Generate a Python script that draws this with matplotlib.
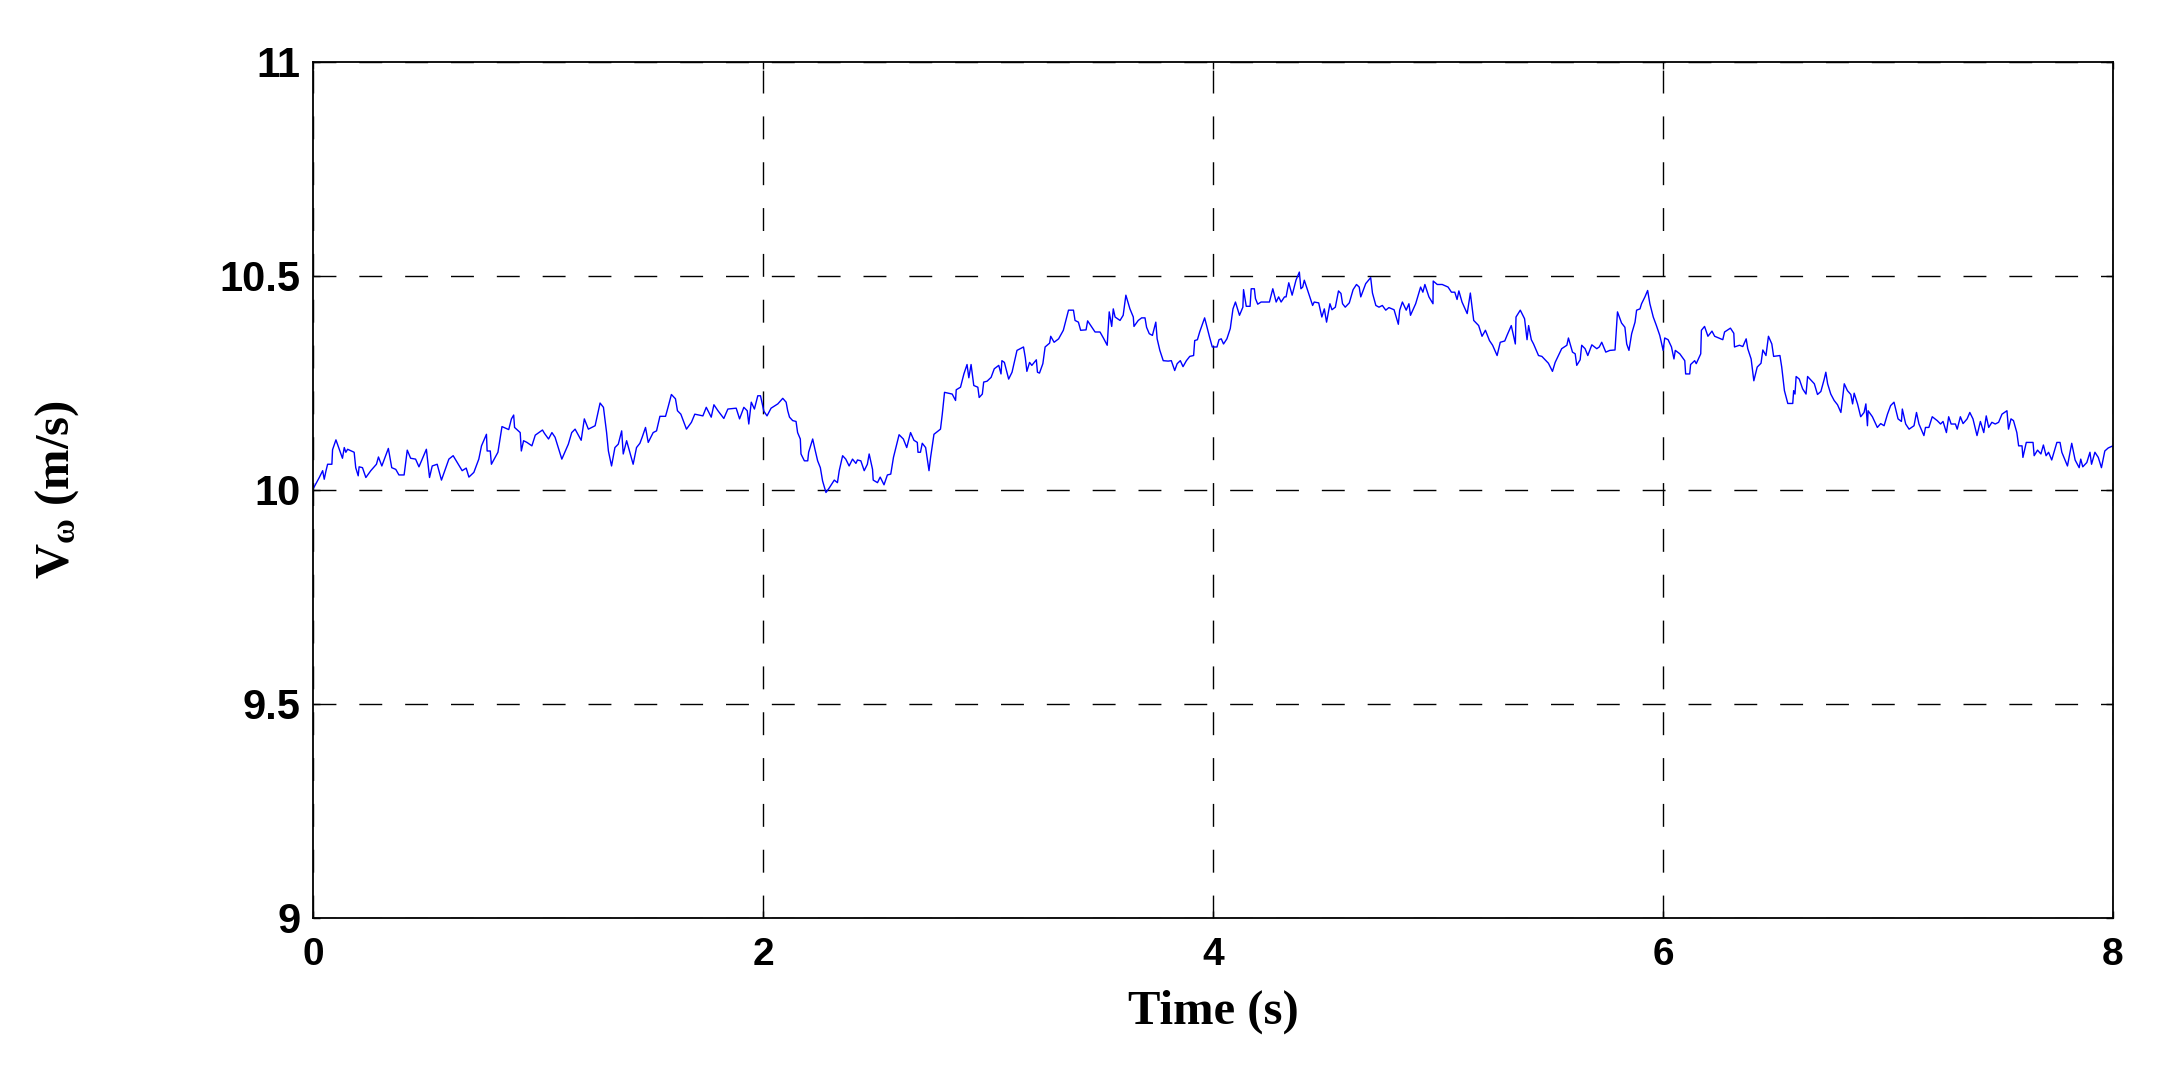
import numpy as np
import matplotlib.pyplot as plt

# Velocidad del viento, en tramos de ~2 s
t_seg1 = [0.000, 0.028, 0.043, 0.050, 0.058, 0.065, 0.084, 0.087, 0.102, 0.131,
          0.139, 0.146, 0.154, 0.183, 0.190, 0.201, 0.205, 0.220, 0.235, 0.257,
          0.282, 0.291, 0.306, 0.335, 0.350, 0.368, 0.382, 0.405, 0.419, 0.434,
          0.456, 0.471, 0.504, 0.518, 0.530, 0.552, 0.571, 0.604, 0.623, 0.663,
          0.681, 0.693, 0.715, 0.737, 0.749, 0.771, 0.774, 0.788, 0.793, 0.822,
          0.840, 0.870, 0.882, 0.892, 0.896, 0.921, 0.926, 0.936, 0.951, 0.973,
          0.988, 1.020, 1.029, 1.047, 1.062, 1.076, 1.106, 1.135, 1.150, 1.165,
          1.192, 1.206, 1.224, 1.254, 1.276, 1.291, 1.305, 1.313, 1.327, 1.342,
          1.357, 1.372, 1.379, 1.394, 1.423, 1.438, 1.453, 1.463, 1.478, 1.490,
          1.512, 1.527, 1.542, 1.567, 1.578, 1.593, 1.611, 1.620, 1.635, 1.660,
          1.682, 1.697, 1.733, 1.748, 1.770, 1.782, 1.800, 1.826, 1.844, 1.881,
          1.896, 1.915, 1.930, 1.937, 1.948, 1.962, 1.977, 1.989, 2.004, 2.018,
          2.036, 2.066]
v_seg1 = [10.002, 10.029, 10.045, 10.025, 10.045, 10.060, 10.060, 10.094, 10.117, 10.074,
          10.099, 10.088, 10.095, 10.088, 10.052, 10.033, 10.054, 10.052, 10.029, 10.045,
          10.060, 10.077, 10.056, 10.097, 10.052, 10.048, 10.035, 10.035, 10.093, 10.074,
          10.072, 10.054, 10.095, 10.029, 10.056, 10.060, 10.023, 10.072, 10.080, 10.045,
          10.051, 10.030, 10.041, 10.072, 10.103, 10.130, 10.091, 10.091, 10.060, 10.088,
          10.148, 10.141, 10.166, 10.175, 10.146, 10.134, 10.091, 10.115, 10.111, 10.103,
          10.128, 10.140, 10.132, 10.119, 10.134, 10.123, 10.072, 10.107, 10.134, 10.142,
          10.116, 10.166, 10.142, 10.150, 10.203, 10.193, 10.134, 10.091, 10.056, 10.099,
          10.107, 10.138, 10.084, 10.115, 10.060, 10.099, 10.109, 10.123, 10.146, 10.111,
          10.134, 10.138, 10.172, 10.172, 10.193, 10.223, 10.213, 10.185, 10.177, 10.142,
          10.158, 10.177, 10.173, 10.193, 10.170, 10.199, 10.185, 10.167, 10.189, 10.191,
          10.166, 10.193, 10.185, 10.154, 10.205, 10.189, 10.220, 10.220, 10.184, 10.173,
          10.191, 10.201]

t_seg2 = [2.088, 2.103, 2.110, 2.118, 2.132, 2.147, 2.154, 2.166, 2.169, 2.184,
          2.199, 2.203, 2.221, 2.231, 2.243, 2.255, 2.265, 2.280, 2.295, 2.317,
          2.331, 2.339, 2.354, 2.368, 2.383, 2.398, 2.413, 2.420, 2.435, 2.450,
          2.464, 2.472, 2.487, 2.490, 2.509, 2.521, 2.538, 2.553, 2.568, 2.580,
          2.605, 2.624, 2.639, 2.656, 2.671, 2.686, 2.689, 2.700, 2.708, 2.723,
          2.738, 2.745, 2.760, 2.789, 2.797, 2.807, 2.841, 2.856, 2.859, 2.878,
          2.893, 2.907, 2.915, 2.925, 2.937, 2.955, 2.961, 2.975, 2.981, 2.996,
          3.014, 3.028, 3.048, 3.058, 3.062, 3.073, 3.092, 3.107, 3.129, 3.158,
          3.166, 3.173, 3.185, 3.195, 3.215, 3.220, 3.229, 3.244, 3.254, 3.274,
          3.279, 3.294, 3.314, 3.335, 3.358, 3.380, 3.387, 3.402, 3.412, 3.436,
          3.443, 3.476, 3.498, 3.513, 3.530, 3.539, 3.550, 3.557, 3.565, 3.587,
          3.601, 3.613, 3.631, 3.646, 3.649, 3.668, 3.683, 3.698, 3.705, 3.717,
          3.731, 3.746, 3.752, 3.764, 3.779, 3.801, 3.815, 3.830, 3.841, 3.855,
          3.867, 3.882, 3.897, 3.914, 3.919, 3.931, 3.941, 3.963, 3.985, 3.997,
          4.018, 4.027, 4.037, 4.047, 4.062, 4.077, 4.089]
v_seg2 = [10.214, 10.205, 10.185, 10.170, 10.162, 10.160, 10.134, 10.119, 10.084, 10.068,
          10.068, 10.088, 10.119, 10.095, 10.068, 10.052, 10.021, 9.994, 10.005, 10.023,
          10.017, 10.045, 10.080, 10.072, 10.056, 10.072, 10.062, 10.070, 10.068, 10.045,
          10.060, 10.084, 10.048, 10.023, 10.017, 10.030, 10.012, 10.035, 10.037, 10.076,
          10.129, 10.119, 10.099, 10.134, 10.116, 10.111, 10.088, 10.088, 10.109, 10.099,
          10.045, 10.076, 10.130, 10.142, 10.177, 10.228, 10.224, 10.209, 10.234, 10.240,
          10.271, 10.293, 10.262, 10.293, 10.244, 10.240, 10.216, 10.224, 10.252, 10.254,
          10.263, 10.283, 10.291, 10.271, 10.302, 10.298, 10.259, 10.275, 10.326, 10.334,
          10.309, 10.277, 10.298, 10.291, 10.304, 10.275, 10.273, 10.295, 10.334, 10.343,
          10.359, 10.345, 10.353, 10.373, 10.420, 10.420, 10.396, 10.392, 10.373, 10.374,
          10.395, 10.369, 10.369, 10.355, 10.338, 10.416, 10.382, 10.423, 10.404, 10.396,
          10.408, 10.455, 10.423, 10.404, 10.382, 10.396, 10.402, 10.402, 10.380, 10.365,
          10.361, 10.392, 10.353, 10.326, 10.302, 10.301, 10.302, 10.279, 10.295, 10.302,
          10.288, 10.302, 10.312, 10.314, 10.349, 10.351, 10.369, 10.402, 10.357, 10.334,
          10.334, 10.351, 10.353, 10.341, 10.353, 10.377, 10.423]

t_seg3 = [4.100, 4.118, 4.133, 4.136, 4.148, 4.165, 4.170, 4.184, 4.189, 4.199,
          4.214, 4.251, 4.266, 4.281, 4.292, 4.303, 4.318, 4.325, 4.337, 4.352,
          4.369, 4.384, 4.391, 4.399, 4.406, 4.421, 4.443, 4.450, 4.470, 4.484,
          4.495, 4.505, 4.520, 4.529, 4.544, 4.558, 4.569, 4.576, 4.588, 4.606,
          4.623, 4.638, 4.650, 4.657, 4.679, 4.701, 4.709, 4.724, 4.738, 4.753,
          4.768, 4.782, 4.805, 4.824, 4.830, 4.842, 4.859, 4.871, 4.878, 4.901,
          4.923, 4.933, 4.942, 4.960, 4.978, 4.979, 4.997, 5.019, 5.045, 5.060,
          5.075, 5.085, 5.093, 5.107, 5.130, 5.144, 5.159, 5.181, 5.196, 5.211,
          5.229, 5.243, 5.263, 5.277, 5.297, 5.307, 5.326, 5.344, 5.347, 5.366,
          5.385, 5.396, 5.403, 5.415, 5.425, 5.447, 5.462, 5.491, 5.509, 5.521,
          5.550, 5.573, 5.580, 5.598, 5.610, 5.617, 5.632, 5.639, 5.654, 5.666,
          5.684, 5.706, 5.717, 5.728, 5.746, 5.764, 5.787, 5.798, 5.816, 5.831,
          5.839, 5.849, 5.861, 5.876, 5.883, 5.898, 5.905, 5.920, 5.932, 5.942,
          5.957, 5.971, 5.986, 6.001, 6.008, 6.023, 6.038, 6.049, 6.055, 6.075]
v_seg3 = [10.439, 10.408, 10.427, 10.468, 10.429, 10.429, 10.470, 10.470, 10.447, 10.434,
          10.439, 10.439, 10.470, 10.439, 10.451, 10.439, 10.451, 10.451, 10.484, 10.455,
          10.490, 10.509, 10.470, 10.474, 10.490, 10.466, 10.431, 10.439, 10.437, 10.404,
          10.423, 10.392, 10.435, 10.421, 10.427, 10.465, 10.459, 10.435, 10.427, 10.437,
          10.468, 10.480, 10.474, 10.451, 10.482, 10.496, 10.460, 10.431, 10.427, 10.431,
          10.420, 10.426, 10.421, 10.387, 10.420, 10.439, 10.420, 10.435, 10.408, 10.435,
          10.474, 10.462, 10.480, 10.451, 10.435, 10.488, 10.480, 10.480, 10.474, 10.462,
          10.462, 10.445, 10.465, 10.439, 10.412, 10.460, 10.396, 10.384, 10.359, 10.373,
          10.349, 10.338, 10.314, 10.345, 10.348, 10.361, 10.384, 10.341, 10.404, 10.420,
          10.400, 10.351, 10.384, 10.351, 10.341, 10.314, 10.312, 10.296, 10.277, 10.298,
          10.330, 10.338, 10.355, 10.322, 10.318, 10.291, 10.304, 10.338, 10.330, 10.314,
          10.339, 10.330, 10.334, 10.345, 10.322, 10.326, 10.327, 10.416, 10.390, 10.380,
          10.341, 10.326, 10.365, 10.392, 10.420, 10.423, 10.435, 10.451, 10.466, 10.435,
          10.404, 10.384, 10.361, 10.326, 10.355, 10.351, 10.334, 10.306, 10.326, 10.318]

t_seg4 = [6.097, 6.101, 6.119, 6.123, 6.141, 6.148, 6.168, 6.171, 6.185, 6.200,
          6.218, 6.230, 6.266, 6.274, 6.300, 6.315, 6.318, 6.340, 6.355, 6.370,
          6.377, 6.392, 6.404, 6.419, 6.436, 6.444, 6.458, 6.469, 6.484, 6.492,
          6.520, 6.528, 6.540, 6.555, 6.577, 6.581, 6.587, 6.592, 6.606, 6.621,
          6.636, 6.643, 6.673, 6.687, 6.702, 6.717, 6.724, 6.732, 6.746, 6.761,
          6.776, 6.791, 6.806, 6.820, 6.835, 6.843, 6.850, 6.865, 6.879, 6.894,
          6.902, 6.909, 6.912, 6.931, 6.953, 6.968, 6.983, 6.998, 7.012, 7.027,
          7.045, 7.060, 7.064, 7.079, 7.094, 7.116, 7.127, 7.138, 7.160, 7.167,
          7.182, 7.197, 7.219, 7.234, 7.245, 7.260, 7.270, 7.281, 7.300, 7.308,
          7.322, 7.334, 7.352, 7.364, 7.378, 7.396, 7.411, 7.426, 7.437, 7.448,
          7.462, 7.477, 7.492, 7.507, 7.529, 7.536, 7.547, 7.558, 7.573, 7.581,
          7.596, 7.600, 7.615, 7.645, 7.650, 7.665, 7.680, 7.691, 7.703, 7.714,
          7.728, 7.751, 7.765, 7.773, 7.798, 7.817, 7.832, 7.850, 7.857, 7.866,
          7.884, 7.898, 7.905, 7.920, 7.935, 7.949, 7.964, 7.979, 8.000]
v_seg4 = [10.302, 10.271, 10.271, 10.293, 10.302, 10.295, 10.318, 10.373, 10.382, 10.359,
          10.371, 10.359, 10.351, 10.369, 10.378, 10.366, 10.334, 10.338, 10.335, 10.353,
          10.330, 10.306, 10.255, 10.287, 10.296, 10.327, 10.314, 10.359, 10.341, 10.312,
          10.314, 10.287, 10.232, 10.202, 10.202, 10.232, 10.224, 10.265, 10.259, 10.236,
          10.224, 10.265, 10.248, 10.223, 10.230, 10.259, 10.275, 10.248, 10.224, 10.209,
          10.199, 10.181, 10.248, 10.232, 10.223, 10.201, 10.226, 10.201, 10.171, 10.181,
          10.201, 10.150, 10.185, 10.171, 10.146, 10.155, 10.150, 10.177, 10.197, 10.205,
          10.166, 10.160, 10.189, 10.154, 10.142, 10.150, 10.181, 10.154, 10.127, 10.146,
          10.146, 10.171, 10.162, 10.154, 10.160, 10.134, 10.171, 10.154, 10.154, 10.142,
          10.171, 10.155, 10.166, 10.181, 10.166, 10.127, 10.160, 10.134, 10.173, 10.146,
          10.158, 10.154, 10.158, 10.177, 10.185, 10.142, 10.166, 10.162, 10.134, 10.103,
          10.103, 10.076, 10.111, 10.111, 10.080, 10.093, 10.084, 10.105, 10.080, 10.088,
          10.070, 10.111, 10.111, 10.088, 10.056, 10.109, 10.070, 10.052, 10.072, 10.054,
          10.064, 10.088, 10.060, 10.088, 10.076, 10.052, 10.091, 10.098, 10.103]

x_ticks = [0, 2, 4, 6, 8]
y_ticks = [9, 9.5, 10, 10.5, 11]
y_tick_labels = ['9', '9.5', '10', '10.5', '11']

tiempo = np.concatenate([t_seg1, t_seg2, t_seg3, t_seg4])
velocidad = np.concatenate([v_seg1, v_seg2, v_seg3, v_seg4])

# Fuentes: texto de ejes en serif negrita
plt.rcParams['mathtext.fontset'] = 'custom'
plt.rcParams['mathtext.rm'] = 'Liberation Serif:bold'
plt.rcParams['mathtext.it'] = 'Liberation Serif:bold'
plt.rcParams['mathtext.bf'] = 'Liberation Serif:bold'

fig = plt.figure(figsize=(21.6, 10.73), dpi=100)
ax = fig.add_axes([0.1449, 0.1445, 0.8333, 0.7978])

ax.plot(tiempo, velocidad, color=(0, 0, 1), linewidth=1.0)

ax.set_xlim(0, 8)
ax.set_ylim(9, 11)
ax.set_xticks(x_ticks)
ax.set_yticks(y_ticks)
ax.set_yticklabels(y_tick_labels)

# Rejilla negra discontinua al estilo MATLAB
ax.grid(True, color='black', linestyle=(0, (16.5, 16.5)), linewidth=1.0)
for s in ax.spines.values():
    s.set_linewidth(1.3)

ax.tick_params(direction='in', length=5, width=1, top=True, right=True)
ax.tick_params(axis='x', pad=14)
ax.tick_params(axis='y', pad=9)

for lbl in ax.get_xticklabels():
    lbl.set_family(['Liberation Sans Narrow', 'Liberation Sans'])
    lbl.set_fontweight('bold')
    lbl.set_fontsize(28)
for lbl in ax.get_yticklabels():
    lbl.set_family('Liberation Sans')
    lbl.set_fontweight('bold')
    lbl.set_fontsize(30)

ax.set_xlabel('Time (s)', fontfamily='Liberation Serif', fontweight='bold',
              fontsize=35, va='center')
ax.xaxis.set_label_coords(0.5, -0.110)
ax.set_ylabel(r'V$_{\omega}$ (m/s)', fontfamily='Liberation Serif', fontweight='bold',
              fontsize=35, va='center')
ax.yaxis.set_label_coords(-0.142, 0.5)

fig.savefig('out.png', dpi=100)
